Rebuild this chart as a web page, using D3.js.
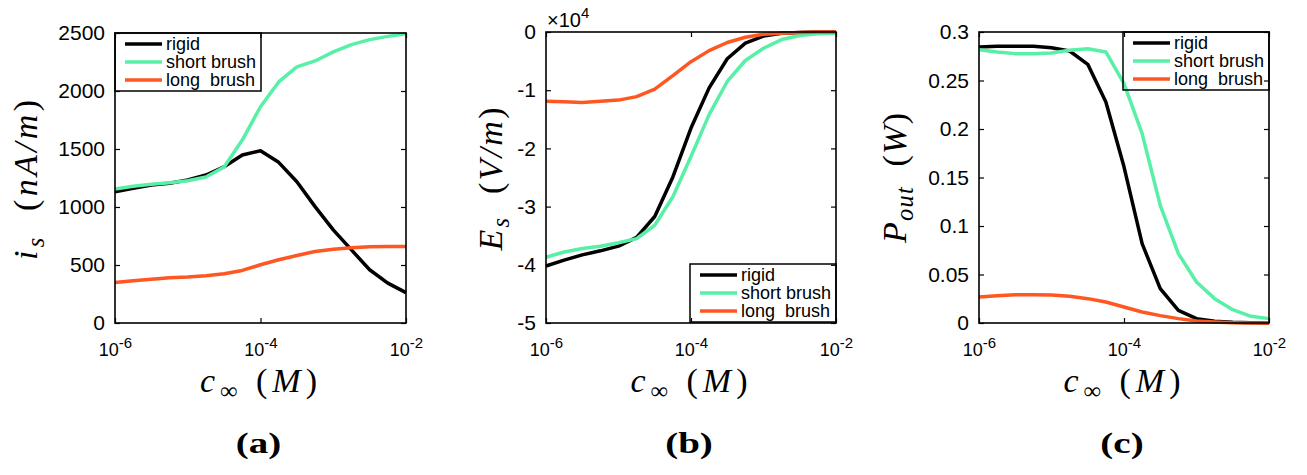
<!DOCTYPE html>
<html>
<head>
<meta charset="utf-8">
<script src="https://cdn.jsdelivr.net/npm/d3@7"></script>
<style>
  body { margin: 0; background: #fff; }
  svg { display: block; }
</style>
</head>
<body>
<svg id="fig" width="1307" height="475"></svg>
<script>
// log10 of bulk concentration c_inf (M)
var logC = [-6, -5.75, -5.5, -5.25, -5, -4.75, -4.5, -4.25, -4, -3.75, -3.5, -3.25, -3, -2.75, -2.5, -2.25, -2];

// (a) streaming current i_s (nA/m)
var isRigid = [1132, 1161, 1190, 1204, 1233, 1276, 1347, 1448, 1485, 1385, 1218, 1003, 803, 630, 459, 344, 262];
var isShort = [1155, 1178, 1196, 1210, 1226, 1258, 1345, 1577, 1864, 2078, 2208, 2259, 2337, 2400, 2443, 2471, 2494];
var isLong  = [350, 364, 378, 390, 396, 407, 424, 453, 502, 545, 582, 616, 636, 648, 657, 659, 660];

// (b) streaming field E_s (x 10^4 V/m)
var esRigid = [-4.02, -3.92, -3.83, -3.76, -3.68, -3.53, -3.17, -2.49, -1.65, -0.96, -0.46, -0.19, -0.07, -0.02, -0.01, 0, 0];
var esShort = [-3.87, -3.78, -3.72, -3.68, -3.62, -3.55, -3.32, -2.83, -2.14, -1.42, -0.85, -0.49, -0.28, -0.13, -0.06, -0.03, -0.02];
var esLong  = [-1.19, -1.20, -1.21, -1.19, -1.17, -1.11, -0.98, -0.75, -0.51, -0.32, -0.18, -0.09, -0.04, -0.02, -0.01, 0, 0];

// (c) output power P_out (W)
var pRigid = [0.2845, 0.2852, 0.2852, 0.2852, 0.2838, 0.2804, 0.2667, 0.2278, 0.161, 0.0818, 0.0354, 0.0131, 0.0045, 0.0017, 0.0007, 0.0003, 0];
var pShort = [0.2818, 0.2794, 0.2777, 0.2777, 0.2784, 0.2811, 0.2828, 0.2794, 0.2467, 0.1952, 0.1213, 0.0715, 0.0423, 0.0251, 0.0137, 0.0069, 0.0045];
var pLong  = [0.0268, 0.0282, 0.0292, 0.0292, 0.0289, 0.0275, 0.0251, 0.0216, 0.0165, 0.0113, 0.0076, 0.0045, 0.0021, 0.001, 0.0003, 0, 0];

var seriesNames = ['rigid', 'short brush', 'long  brush'];
var seriesColors = ['#000000', '#58F0A6', '#FF5722'];
var xTickExp = [-6, -4, -2];
var yTicksA = [0, 500, 1000, 1500, 2000, 2500];
var yTicksB = [-5, -4, -3, -2, -1, 0];
var yTicksC = [0, 0.05, 0.1, 0.15, 0.2, 0.25, 0.3];

var svg = d3.select('#fig');
var sans = "'Liberation Sans', Arial, Helvetica, sans-serif";
var serif = "'Liberation Serif', 'Times New Roman', serif";

var panels = [
    { left: 115, right: 406, top: 33, bottom: 323, domain: [0, 2500], ticks: yTicksA,
      data: [isRigid, isShort, isLong], legend: { x: 115, y: 33 }, tag: '(a)',
      ylab: { x: 37, y: 180, len: 160, parts: [['i', 1], ['s', 1, 'sub'], ['  (', 0], ['nA/m', 1], [')', 0]] } },
    { left: 546, right: 836, top: 32, bottom: 323, domain: [-5, 0], ticks: yTicksB,
      data: [esRigid, esShort, esLong], legend: { x: 690, y: 264 }, tag: '(b)', exp: true,
      ylab: { x: 502, y: 179, len: 143, parts: [['E', 1], ['s', 1, 'sub'], ['  (', 0], ['V/m', 1], [')', 0]] } },
    { left: 979, right: 1269, top: 32, bottom: 323, domain: [0, 0.3], ticks: yTicksC,
      data: [pRigid, pShort, pLong], legend: { x: 1123, y: 32 }, tag: '(c)',
      ylab: { x: 906, y: 178, len: 130, parts: [['P', 1], ['out', 1, 'sub'], ['  (', 0], ['W', 1], [')', 0]] } }
];

// math-ish label made of tspans (italic / subscript pieces)
function mathText(g, parts, fs) {
    var t = g.append('text')
        .attr('font-family', serif)
        .attr('font-size', fs)
        .attr('text-anchor', 'middle')
        .style('white-space', 'pre');
    var shift = 0;
    parts.forEach(function (p) {
        var ts = t.append('tspan').text(p[0]).attr('font-style', p[1] ? 'italic' : 'normal');
        if (p[2] === 'sub') {
            ts.attr('font-size', fs * 0.72).attr('dy', fs * 0.22);
            shift = fs * 0.22;
        } else if (shift) {
            ts.attr('dy', -shift);
            shift = 0;
        }
    });
    return t;
}

panels.forEach(function (p) {
    var x = d3.scaleLog().domain([1e-6, 1e-2]).range([p.left, p.right]);
    var y = d3.scaleLinear().domain(p.domain).range([p.bottom, p.top]);
    var xTicks = xTickExp.map(function (e) { return Math.pow(10, e); });
    var g = svg.append('g');

    // bottom axis with 10^n labels
    var xb = g.append('g')
        .attr('transform', 'translate(0,' + p.bottom + ')')
        .call(d3.axisBottom(x).tickValues(xTicks).tickSizeInner(-5).tickSizeOuter(0).tickPadding(20));
    xb.selectAll('.tick text').each(function (d, i) {
        var t = d3.select(this).text('10');
        t.append('tspan').attr('dy', -8).attr('font-size', 15).text(xTickExp[i]);
    });
    xb.selectAll('text').attr('font-family', sans).attr('font-size', 18).attr('fill', '#000');

    // top axis mirror ticks
    g.append('g')
        .attr('transform', 'translate(0,' + p.top + ')')
        .call(d3.axisTop(x).tickValues(xTicks).tickSizeInner(-5).tickSizeOuter(0).tickFormat(''));

    // left axis
    var yl = g.append('g')
        .attr('transform', 'translate(' + p.left + ',0)')
        .call(d3.axisLeft(y).tickValues(p.ticks).tickSizeInner(-5).tickSizeOuter(0).tickPadding(10)
            .tickFormat(function (v) { return String(v); }));
    yl.selectAll('text').attr('font-family', sans).attr('font-size', 21).attr('fill', '#000');

    // right axis mirror ticks
    g.append('g')
        .attr('transform', 'translate(' + p.right + ',0)')
        .call(d3.axisRight(y).tickValues(p.ticks).tickSizeInner(-5).tickSizeOuter(0).tickFormat(''));

    g.selectAll('.domain').remove();
    g.selectAll('.tick line').attr('stroke', '#000').attr('stroke-width', 1.2);

    // curves
    var line = d3.line()
        .x(function (d, i) { return x(Math.pow(10, logC[i])); })
        .y(function (d) { return y(d); });
    p.data.forEach(function (vals, k) {
        g.append('path')
            .datum(vals)
            .attr('d', line)
            .attr('fill', 'none')
            .attr('stroke', seriesColors[k])
            .attr('stroke-width', 3.5)
            .attr('stroke-linejoin', 'round');
    });

    // box
    g.append('rect')
        .attr('x', p.left).attr('y', p.top)
        .attr('width', p.right - p.left).attr('height', p.bottom - p.top)
        .attr('fill', 'none').attr('stroke', '#000').attr('stroke-width', 1.6);

    // legend
    var lg = g.append('g').attr('transform', 'translate(' + p.legend.x + ',' + p.legend.y + ')');
    lg.append('rect')
        .attr('width', 146).attr('height', 58)
        .attr('fill', 'none').attr('stroke', '#000').attr('stroke-width', 1.5);
    seriesNames.forEach(function (name, k) {
        var ry = 11 + k * 18;
        lg.append('line')
            .attr('x1', 10).attr('x2', 47).attr('y1', ry).attr('y2', ry)
            .attr('stroke', seriesColors[k]).attr('stroke-width', 3.5);
        lg.append('text')
            .attr('x', 51).attr('y', ry + 6)
            .attr('font-family', sans).attr('font-size', 18)
            .style('white-space', 'pre')
            .text(name);
    });

    // exponent marker for (b)
    if (p.exp) {
        var et = g.append('text')
            .attr('x', p.left + 1).attr('y', 27)
            .attr('font-family', sans).attr('font-size', 20)
            .text('\u00d710');
        et.append('tspan').attr('dy', -9).attr('font-size', 15).text('4');
    }

    // y label
    mathText(g, p.ylab.parts, 34)
        .attr('transform', 'translate(' + p.ylab.x + ',' + p.ylab.y + ') rotate(-90)')
        .attr('textLength', p.ylab.len)
        .attr('lengthAdjust', 'spacing');

    // x label
    var xc = (p.left + p.right) / 2;
    mathText(g, [['c', 1], ['\u221e', 0, 'sub'], [' (', 0], ['M', 1], [')', 0]], 34)
        .attr('x', xc - 2).attr('y', 392)
        .attr('textLength', 117)
        .attr('lengthAdjust', 'spacing');

    // panel tag
    g.append('text')
        .attr('transform', 'translate(' + (xc - 2) + ',453) scale(1.3,1)')
        .attr('text-anchor', 'middle')
        .attr('font-family', serif).attr('font-weight', 'bold').attr('font-size', 30)
        .text(p.tag);
});
</script>
</body>
</html>
